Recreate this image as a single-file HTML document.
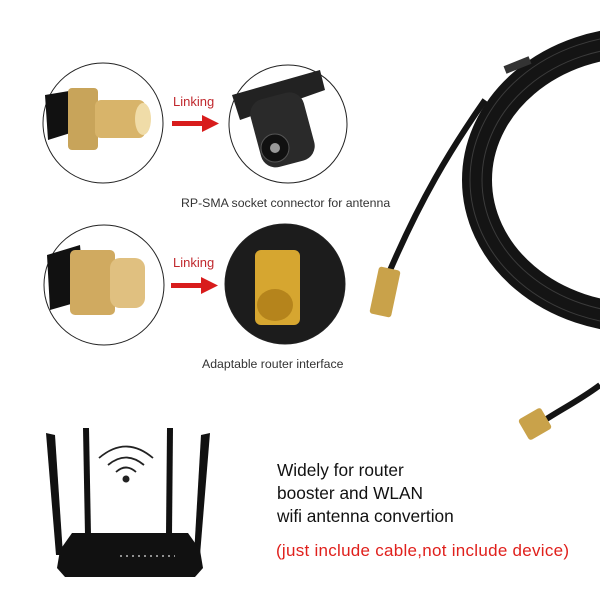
<!DOCTYPE html>
<html><head><style>
body{margin:0;background:#fff;width:600px;height:600px;overflow:hidden;font-family:"Liberation Sans",sans-serif}
</style></head><body>
<svg width="600" height="600" viewBox="0 0 600 600" xmlns="http://www.w3.org/2000/svg">
<rect width="600" height="600" fill="#fff"/>
<!-- cable coil -->
<ellipse cx="640" cy="180" rx="163" ry="138" fill="none" stroke="#141414" stroke-width="30"/>
<g fill="none" stroke="#555" stroke-width="1" opacity="0.6">
<ellipse cx="640" cy="180" rx="170" ry="145"/>
<ellipse cx="640" cy="180" rx="158" ry="133"/>
</g>
<path d="M505 70 L530 60" stroke="#333" stroke-width="8"/>
<path d="M485 100 C450 150 420 200 388 275" fill="none" stroke="#141414" stroke-width="6"/>
<path d="M600 385 C580 400 560 410 545 420" fill="none" stroke="#141414" stroke-width="6"/>
<rect x="374" y="268" width="22" height="48" rx="3" fill="#c9a24a" transform="rotate(12 385 292)"/>
<rect x="522" y="412" width="26" height="24" rx="3" fill="#c9a24a" transform="rotate(-30 535 424)"/>
<!-- circles -->
<circle cx="103" cy="123" r="60" fill="#fff" stroke="#222" stroke-width="1"/>
<circle cx="288" cy="124" r="59" fill="#fff" stroke="#222" stroke-width="1"/>
<circle cx="104" cy="285" r="60" fill="#fff" stroke="#222" stroke-width="1"/>
<circle cx="285" cy="284" r="60" fill="#1c1c1c" stroke="#222" stroke-width="1"/>
<!-- top-left connector -->
<path d="M45 95 L75 90 L80 130 L48 140Z" fill="#111"/>
<rect x="68" y="88" width="30" height="62" rx="4" fill="#c8a45a"/>
<rect x="95" y="100" width="50" height="38" rx="6" fill="#d8b46a"/>
<ellipse cx="143" cy="119" rx="8" ry="16" fill="#f0dca8"/>
<!-- top-right antenna -->
<path d="M232 95 L320 70 L325 90 L240 120Z" fill="#222"/>
<rect x="255" y="95" width="55" height="70" rx="15" fill="#2a2a2a" transform="rotate(-15 282 130)"/>
<circle cx="275" cy="148" r="14" fill="#111" stroke="#555"/>
<circle cx="275" cy="148" r="5" fill="#999"/>
<!-- bottom-left connector -->
<path d="M47 255 L80 245 L85 300 L50 310Z" fill="#111"/>
<rect x="70" y="250" width="45" height="65" rx="5" fill="#d0aa60"/>
<rect x="110" y="258" width="35" height="50" rx="10" fill="#e0c080"/>
<!-- bottom-right connector -->
<rect x="255" y="250" width="45" height="75" rx="6" fill="#d6a630"/>
<ellipse cx="275" cy="305" rx="18" ry="16" fill="#b5841c"/>
<!-- arrows -->
<g fill="#d81c1c">
<rect x="172" y="121" width="32" height="5"/><polygon points="202,115 219,123.5 202,132"/>
<rect x="171" y="283" width="32" height="5"/><polygon points="201,277 218,285.5 201,294"/>
</g>
<g font-family="Liberation Sans, sans-serif">
<text x="173" y="106" font-size="13" fill="#c0282d">Linking</text>
<text x="173" y="267" font-size="13" fill="#c0282d">Linking</text>
<text x="181" y="207" font-size="12.3" fill="#333">RP-SMA socket connector for antenna</text>
<text x="202" y="368" font-size="12.3" fill="#333">Adaptable router interface</text>
<text x="277" y="476" font-size="17.3" fill="#111">Widely for router</text>
<text x="277" y="499" font-size="17.3" fill="#111">booster and WLAN</text>
<text x="277" y="522" font-size="17.3" fill="#111">wifi antenna convertion</text>
<text x="276" y="556" font-size="17" fill="#e0201c" textLength="293">(just include cable,not include device)</text>
</g>
<!-- router -->
<g fill="#111">
<polygon points="46,433 55,435 63,555 56,555"/>
<polygon points="83,428 89,428 91,535 85,535"/>
<polygon points="167,428 173,428 172,535 166,535"/>
<polygon points="201,435 210,433 200,555 194,555"/>
<path d="M72 533 L188 533 L200 550 L203 568 L195 577 L65 577 L57 568 L60 550Z"/>
</g>
<path d="M120 556 L175 556" stroke="#bbb" stroke-width="1.5" stroke-dasharray="2 4"/>
<g fill="none" stroke="#222" stroke-width="1.8">
<path d="M99 458 Q126 435 153 458"/>
<path d="M108 465 Q126 450 144 465"/>
<path d="M116 472 Q126 463 136 472"/>
</g>
<circle cx="126" cy="479" r="3.5" fill="#222"/>
</svg>
</body></html>
